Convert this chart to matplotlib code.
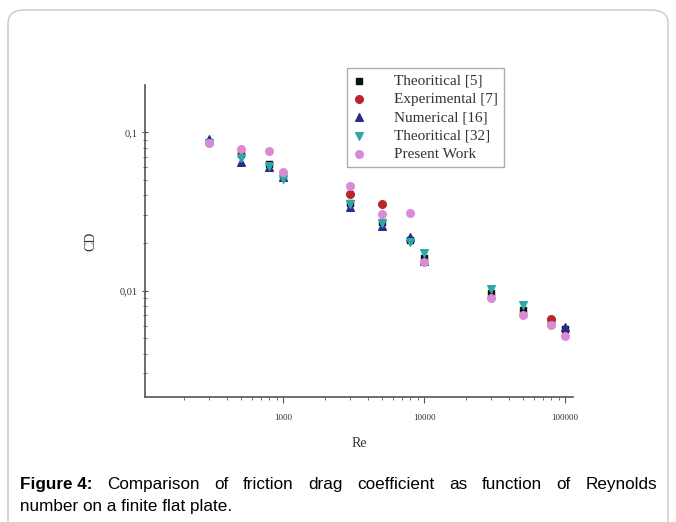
import matplotlib
matplotlib.use("Agg")
import matplotlib.pyplot as plt
from matplotlib.patches import FancyBboxPatch
from matplotlib.ticker import FixedLocator, LogLocator, NullFormatter

# Re values and drag coefficient per source
re_theo5 = [300, 500, 800, 1000, 3000, 5000, 8000, 10000, 30000, 50000, 80000, 100000]
cd_theo5 = [0.087, 0.073, 0.063, 0.052, 0.036, 0.027, 0.021, 0.016, 0.0097, 0.0076, 0.0063, 0.0057]

re_exp7 = [3000, 5000, 80000]
cd_exp7 = [0.0406, 0.0352, 0.0066]

re_num16 = [300, 500, 800, 1000, 3000, 5000, 8000, 10000, 100000]
cd_num16 = [0.091, 0.065, 0.060, 0.052, 0.034, 0.0255, 0.0219, 0.0155, 0.0059]

re_theo32 = [300, 500, 800, 1000, 3000, 5000, 8000, 10000, 30000, 50000]
cd_theo32 = [0.086, 0.069, 0.061, 0.0507, 0.0351, 0.0266, 0.0204, 0.0172, 0.0102, 0.0081]

re_present = [300, 500, 800, 1000, 3000, 5000, 8000, 10000, 30000, 50000, 80000, 100000]
cd_present = [0.085, 0.0785, 0.0766, 0.056, 0.046, 0.0305, 0.031, 0.0151, 0.0090, 0.0070, 0.0061, 0.0052]

fig = plt.figure(figsize=(6.76, 5.22), dpi=100)

# rounded frame around the figure
frame = FancyBboxPatch((8 / 676, -0.05), (668 - 8) / 676, 1.05 - 10 / 522,
                       boxstyle="round,pad=0,rounding_size=0.025",
                       transform=fig.transFigure, fill=False, edgecolor="#c8c8c8", linewidth=1.0)
fig.patches.append(frame)

ax = fig.add_axes([145 / 676, 1 - 397 / 522, (573 - 145) / 676, (397 - 85) / 522])

ms = 30
ax.scatter(re_theo5, cd_theo5, marker="s", s=ms * 0.8, color="#111111", label="Theoritical [5]", zorder=3)
ax.scatter(re_exp7, cd_exp7, marker="o", s=ms, color="#b8262b", label="Experimental [7]", zorder=4)
ax.scatter(re_num16, cd_num16, marker="^", s=ms, color="#2b2b8e", label="Numerical [16]", zorder=5)
ax.scatter(re_theo32, cd_theo32, marker="v", s=ms, color="#2fa7a6", label="Theoritical [32]", zorder=6)
ax.scatter(re_present, cd_present, marker="o", s=ms, color="#db8ad6", label="Present Work", zorder=7)

ax.set_xscale("log")
ax.set_yscale("log")
ax.set_xlim(105, 114000)
ax.set_ylim(0.00213, 0.199)

for s in ["top", "right"]:
    ax.spines[s].set_visible(False)
for s in ["left", "bottom"]:
    ax.spines[s].set_color("#555555")
    ax.spines[s].set_linewidth(1.2)

ax.xaxis.set_major_locator(FixedLocator([1000, 10000, 100000]))
ax.xaxis.set_minor_locator(LogLocator(base=10, subs=range(2, 10)))
ax.xaxis.set_minor_formatter(NullFormatter())
ax.set_xticklabels(["1000", "10000", "100000"], fontfamily="Liberation Serif", fontsize=6.5, color="#333333")

ax.yaxis.set_major_locator(FixedLocator([0.01, 0.1]))
ax.yaxis.set_minor_locator(LogLocator(base=10, subs=range(2, 10)))
ax.yaxis.set_minor_formatter(NullFormatter())
ax.set_yticklabels(["0,01", "0,1"], fontfamily="Liberation Serif", fontsize=7.5, color="#333333")

ax.tick_params(axis="x", which="major", direction="out", length=4, color="#555555", pad=8)
ax.tick_params(axis="x", which="minor", direction="out", length=2, color="#555555")
ax.tick_params(axis="y", which="major", direction="inout", length=5, color="#555555", pad=3)
ax.tick_params(axis="y", which="minor", direction="inout", length=3, color="#555555")

ax.set_xlabel("Re", fontfamily="Liberation Serif", fontsize=10, color="#333333", labelpad=11)
ax.set_ylabel("CD", fontfamily="Liberation Serif", fontsize=10, color="#333333", labelpad=16)

leg = ax.legend(loc="upper left", bbox_to_anchor=((347 - 145) / 428, (397 - 68) / 312),
                prop={"family": "Liberation Serif", "size": 11}, frameon=True, fancybox=False,
                handletextpad=1.9, labelspacing=0.3, borderpad=0.4, handlelength=0.8,
                borderaxespad=0)
leg.get_frame().set_edgecolor("#999999")
leg.get_frame().set_linewidth(1.0)
for t in leg.get_texts():
    t.set_color("#333333")

# caption, first line justified
line1 = ["Comparison", "of", "friction", "drag", "coefficient", "as", "function", "of", "Reynolds"]
cap_font = {"family": "Liberation Sans", "size": 12.3}
x0, x1 = 20 / 676, 657 / 676
y1, y2 = 1 - 489 / 522, 1 - 511 / 522
fig.canvas.draw()
r = fig.canvas.get_renderer()
bold = fig.text(x0, y1, "Figure 4:", fontdict=cap_font, fontweight="bold", va="baseline")
words = [fig.text(0, y1, w, fontdict=cap_font, va="baseline") for w in line1]
bw = bold.get_window_extent(r).width / fig.bbox.width
ws = [w.get_window_extent(r).width / fig.bbox.width for w in words]
gap = (x1 - x0 - bw - sum(ws)) / len(words)
xp = x0 + bw + gap
for w, wd in zip(words, ws):
    w.set_x(xp)
    xp += wd + gap
fig.text(x0, y2, "number on a finite flat plate.", fontdict=cap_font, va="baseline")

fig.savefig("out.png", dpi=100)
